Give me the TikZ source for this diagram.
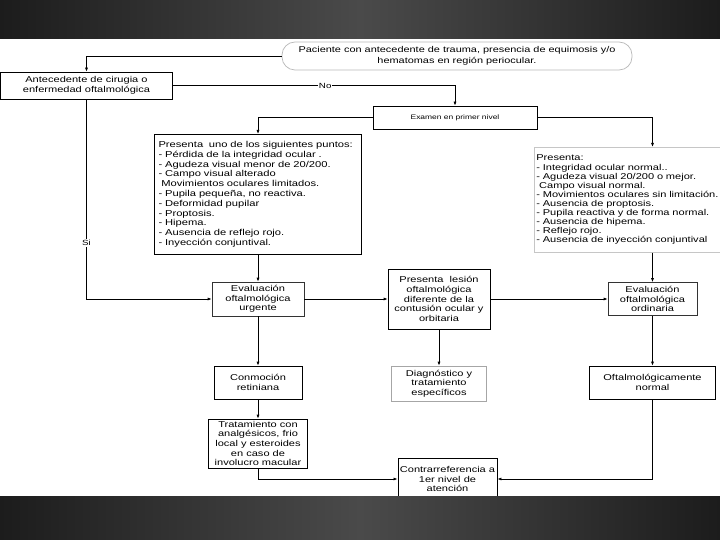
\documentclass[tikz,border=0pt]{standalone}
\usepackage{fontspec}
\newfontfamily\flowfont[FakeStretch=1.3]{Liberation Sans}
\usetikzlibrary{arrows.meta}
\definecolor{bandedge}{HTML}{1C1C1C}
\definecolor{bandmid}{HTML}{4A4A4A}

\begin{document}
\begin{tikzpicture}[x=1pt,y=-1pt,
    box/.style={draw,fill=white,line width=0.7pt,inner sep=2pt,align=center,
      font=\fontsize{8.5}{9.6}\selectfont\flowfont},
    arr/.style={-{Latex[length=4pt,width=3pt]},line width=0.7pt},
    lbl/.style={fill=white,inner sep=1pt,font=\fontsize{7.5}{8}\selectfont\flowfont}]
\useasboundingbox (0,0) rectangle (720,540);
\fill[white] (0,0) rectangle (720,540);
\shade[left color=bandedge,right color=bandedge,middle color=bandmid] (0,0) rectangle (720,39);
% first level
\node[box,draw=gray!55,rounded corners=13pt,minimum width=350pt,minimum height=28pt,
  font=\fontsize{8.4}{10.5}\selectfont\flowfont] (start) at (457,56)
  {Paciente con antecedente de trauma, presencia de equimosis y/o\\hematomas en región periocular.};
\node[box,minimum width=164pt,minimum height=23pt,font=\fontsize{6.5}{8}\selectfont\flowfont]
  (exam) at (455,117.5) {Examen en primer nivel};
\node[box,anchor=north,text width=199pt,align=left,minimum height=120pt,inner xsep=4pt,
  font=\fontsize{8.6}{9.8}\selectfont\flowfont] (listl) at (258,134)
  {Presenta\ \ uno de los siguientes puntos:\\- Pérdida de la integridad ocular .\\
   - Agudeza visual menor de 20/200.\\- Campo visual alterado\\\ Movimientos oculares limitados.\\
   - Pupila pequeña, no reactiva.\\- Deformidad pupilar\\- Proptosis.\\- Hipema.\\
   - Ausencia de reflejo rojo.\\- Inyección conjuntival.};
\node[box,draw=gray!45,anchor=north west,text width=190pt,align=left,minimum height=105pt,
  font=\fontsize{8.5}{9.1}\selectfont\flowfont] (listr) at (534,147)
  {Presenta:\\- Integridad ocular normal..\\- Agudeza visual 20/200 o mejor.\\\ Campo visual normal.\\
   - Movimientos oculares sin limitación.\\- Ausencia de proptosis.\\
   - Pupila reactiva y de forma normal.\\- Ausencia de hipema.\\- Reflejo rojo.\\
   - Ausencia de inyección conjuntival};
% plain boxes
\foreach \N/\P/\W/\H/\C/\T in {
  ante/{86.5,85.5}/172/27/black/{Antecedente de cirugia o\\enfermedad oftalmológica},
  evalu/{258,299}/92/34/black!80/{Evaluación\\oftalmológica\\urgente},
  lesion/{439,299}/102/60/black/{Presenta\ \ lesión\\oftalmológica\\diferente de la\\contusión ocular y\\orbitaria},
  evalo/{652.5,299}/89/33/black!80/{Evaluación\\oftalmológica\\ordinaria},
  conm/{258,382.5}/88/33/black/{Conmoción\\retiniana},
  diag/{439,383.5}/95/35/gray!70/{Diagnóstico y\\tratamiento\\específicos},
  oftn/{652.5,382.5}/126/33/black/{Oftalmológicamente\\normal},
  trat/{258,443.5}/99/49/black/{Tratamiento con\\analgésicos, frio\\local y esteroides\\en caso de\\involucro macular},
  contra/{447.5,479}/99/42/black/{Contrarreferencia a\\1er nivel de\\atención}}
  \node[box,draw=\C,minimum width=\W pt,minimum height=\H pt] (\N) at (\P) {\T};
% connectors
\draw[arr] (start.west) -| (ante.north);
\draw[arr] (ante.east) -| node[lbl,pos=0.27]{No} (exam.north);
\draw[arr] (ante.south) |- node[lbl,pos=0.36]{Si} (evalu.west);
\draw[arr] (exam.west) -| (listl.north);
\draw[arr] (exam.east) -| (evalo |- listr.north);
\draw[arr] (listl) -- (evalu);
\draw[arr] (evalo |- listr.south) -- (evalo);
\draw[arr] (evalu) -- (lesion);
\draw[arr] (lesion) -- (evalo);
\draw[arr] (evalu) -- (conm);
\draw[arr] (lesion) -- (diag);
\draw[arr] (evalo) -- (oftn);
\draw[arr] (conm) -- (trat);
\draw[arr] (trat.south) |- (contra.west);
\draw[arr] (oftn.south) |- (contra.east);
\shade[left color=bandedge,right color=bandedge,middle color=bandmid] (0,496) rectangle (720,540);
\end{tikzpicture}
\end{document}
